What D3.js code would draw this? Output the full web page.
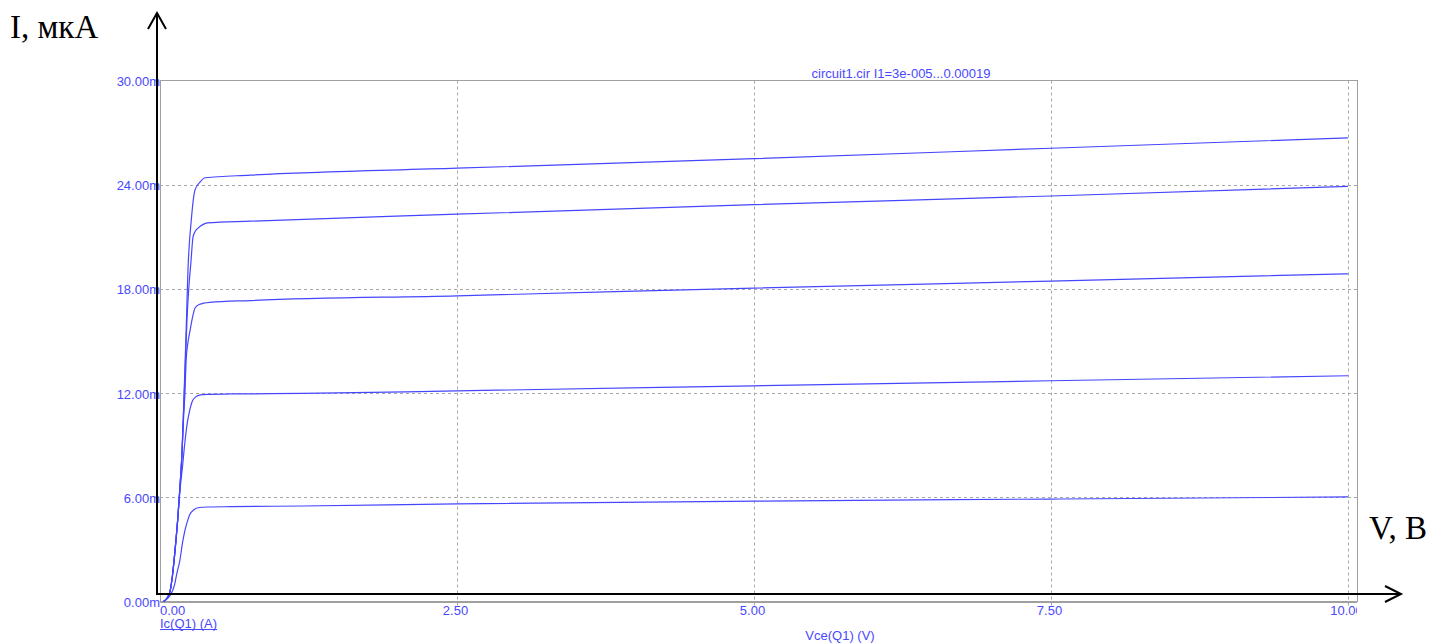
<!DOCTYPE html>
<html>
<head>
<meta charset="utf-8">
<script src="https://cdn.jsdelivr.net/npm/d3@7/dist/d3.min.js"></script>
<style>
  html, body { margin: 0; padding: 0; background: #fff; }
  svg { display: block; }
</style>
</head>
<body>
<svg id="chart" width="1443" height="644"></svg>
<script>
// ---- data (Vce in V, Ic in mA) ----
const xTicks = [0, 2.5, 5, 7.5, 10];
const xTickLabels = ["0.00", "2.50", "5.00", "7.50", "10.00"];
const yTicks = [0, 6, 12, 18, 24, 30];
const yTickLabels = ["0.00m", "6.00m", "12.00m", "18.00m", "24.00m", "30.00m"];

const v1 = [0.03,0.06,0.09,0.12,0.143,0.168,0.19,0.21,0.23,0.25,0.28,0.32,0.4,0.6,1.2,2.5,5,7.5,10];
const i1 = [0,0.15,0.4,0.9,1.65,2.4,3.4,4.1,4.6,5.0,5.25,5.4,5.44,5.46,5.5,5.62,5.78,5.9,6.02];

const v2 = [0.03,0.06,0.085,0.105,0.126,0.15,0.168,0.19,0.21,0.23,0.25,0.27,0.3,0.34,0.4,0.6,1.2,2.5,5,7.5,10];
const i2 = [0,0.2,0.6,1.5,2.9,4.8,6.4,7.8,9.2,10.3,11.0,11.5,11.78,11.9,11.93,11.95,11.98,12.13,12.42,12.71,13.0];

const v3 = [0.03,0.06,0.085,0.105,0.126,0.15,0.168,0.185,0.2,0.21,0.22,0.235,0.253,0.275,0.295,0.33,0.42,0.76,2.5,5,7.5,10];
const i3 = [0,0.2,0.6,1.5,2.9,4.8,6.6,8.5,10.8,12.0,13.9,14.9,15.6,16.4,16.9,17.1,17.22,17.33,17.6,18.05,18.45,18.87];

const v4 = [0.03,0.06,0.085,0.105,0.126,0.15,0.168,0.185,0.2,0.214,0.227,0.244,0.261,0.278,0.3,0.32,0.36,0.4,0.76,2.5,5,7.5,10];
const i4 = [0,0.2,0.6,1.5,2.9,4.8,6.6,8.5,11.2,13.8,16.2,18.2,19.6,21.0,21.35,21.5,21.7,21.8,21.9,22.3,22.85,23.35,23.9];

const v5 = [0.03,0.06,0.085,0.105,0.126,0.15,0.168,0.185,0.2,0.212,0.224,0.236,0.248,0.26,0.278,0.295,0.337,0.38,0.76,2.5,5,7.5,10];
const i5 = [0,0.2,0.6,1.5,2.9,4.8,6.6,8.6,11.4,13.9,16.5,19.2,20.7,21.7,23.0,23.7,24.15,24.4,24.55,24.95,25.5,26.1,26.7];

const seriesV = [v1, v2, v3, v4, v5];
const seriesI = [i1, i2, i3, i4, i5];

const titleText = "circuit1.cir I1=3e-005...0.00019";
const yVarLabel = "Ic(Q1) (A)";
const xVarLabel = "Vce(Q1) (V)";
const yAxisTitle = "I, мкА";
const xAxisTitle = "V, В";

// ---- layout ----
const svg = d3.select("#chart");
const plotLeft = 160, plotRight = 1357, plotTop = 80.5, plotBottom = 601.5;
const x = d3.scaleLinear().domain([0, 10]).range([160, 1348]);
const y = d3.scaleLinear().domain([0, 30]).range([plotBottom, plotTop]);
const blue = "#4848ff";
const gridColor = "#a8a8a8";
const labelFont = "Liberation Sans, Arial, sans-serif";
const labelSize = 13;

svg.append("defs").append("clipPath").attr("id", "plotclip")
  .append("rect").attr("x", plotLeft).attr("y", 0).attr("width", plotRight - plotLeft).attr("height", 644);

// grid
const grid = svg.append("g");
grid.selectAll("line.h").data(yTicks.filter(d => d > 0 && d < 30)).join("line")
  .attr("x1", plotLeft).attr("x2", plotRight)
  .attr("y1", d => Math.round(y(d)) + 0.5).attr("y2", d => Math.round(y(d)) + 0.5)
  .attr("stroke", gridColor).attr("stroke-width", 1).attr("stroke-dasharray", "3,3");
grid.selectAll("line.v").data(xTicks.filter(d => d > 0)).join("line")
  .attr("x1", d => Math.round(x(d)) + 0.5).attr("x2", d => Math.round(x(d)) + 0.5)
  .attr("y1", plotTop).attr("y2", plotBottom + 4)
  .attr("stroke", gridColor).attr("stroke-width", 1).attr("stroke-dasharray", "3,3");

// plot border
svg.append("rect")
  .attr("x", plotLeft + 0.5).attr("y", plotTop).attr("width", plotRight - plotLeft).attr("height", plotBottom - plotTop)
  .attr("fill", "none").attr("stroke", "#a0a0a0").attr("stroke-width", 1);
svg.append("line").attr("x1", plotLeft).attr("x2", plotRight)
  .attr("y1", plotBottom + 0.5).attr("y2", plotBottom + 0.5)
  .attr("stroke", "#a0a0a0").attr("stroke-width", 2);

// curves
const line = d3.line().x(d => x(d[0])).y(d => y(d[1])).curve(d3.curveMonotoneX);
svg.append("g").selectAll("path").data(seriesV.map((vs, k) => vs.map((v, j) => [v, seriesI[k][j]]))).join("path")
  .attr("d", line)
  .attr("fill", "none").attr("stroke", "#4646ff").attr("stroke-width", 1.2);

// y tick labels
svg.append("g").selectAll("text").data(yTicks).join("text")
  .attr("x", 160).attr("y", d => y(d) + 1)
  .attr("text-anchor", "end").attr("dominant-baseline", "central")
  .attr("font-family", labelFont).attr("font-size", labelSize).attr("fill", blue)
  .text((d, i) => yTickLabels[i]);

// x tick labels
svg.append("g").attr("clip-path", "url(#plotclip)").selectAll("text").data(xTicks).join("text")
  .attr("x", d => d === 0 ? x(d) : x(d) - 1.5).attr("y", 610)
  .attr("text-anchor", d => d === 0 ? "start" : "middle").attr("dominant-baseline", "central")
  .attr("font-family", labelFont).attr("font-size", labelSize).attr("fill", blue)
  .text((d, i) => xTickLabels[i]);

// variable labels
const yl = svg.append("text").attr("x", 160).attr("y", 623).attr("dominant-baseline", "central")
  .attr("font-family", labelFont).attr("font-size", labelSize).attr("fill", blue).text(yVarLabel);
const ylw = yl.node().getComputedTextLength();
svg.append("line").attr("x1", 160).attr("x2", 160 + ylw).attr("y1", 629.5).attr("y2", 629.5)
  .attr("stroke", blue).attr("stroke-width", 1);
svg.append("text").attr("x", 840).attr("y", 635).attr("text-anchor", "middle").attr("dominant-baseline", "central")
  .attr("font-family", labelFont).attr("font-size", labelSize).attr("fill", blue).text(xVarLabel);

// title
svg.append("text").attr("x", 901).attr("y", 73).attr("text-anchor", "middle").attr("dominant-baseline", "central")
  .attr("font-family", labelFont).attr("font-size", labelSize).attr("fill", blue).text(titleText);

// black arrow axes
const ax = svg.append("g").attr("stroke", "#000").attr("stroke-width", 2).attr("fill", "none");
ax.append("line").attr("x1", 157).attr("x2", 157).attr("y1", 13).attr("y2", 595);
ax.append("path").attr("d", "M148,29 L157,13 L166,29");
ax.append("line").attr("x1", 156).attr("x2", 1401).attr("y1", 594).attr("y2", 594);
ax.append("path").attr("d", "M1385,586 L1401,594 L1385,602");

// axis titles
svg.append("text").attr("x", 10).attr("y", 38)
  .attr("font-family", "Liberation Serif, Times New Roman, serif").attr("font-size", 33).attr("fill", "#000")
  .text(yAxisTitle);
svg.append("text").attr("x", 1369).attr("y", 539)
  .attr("font-family", "Liberation Serif, Times New Roman, serif").attr("font-size", 33).attr("fill", "#000")
  .text(xAxisTitle);
</script>
</body>
</html>
